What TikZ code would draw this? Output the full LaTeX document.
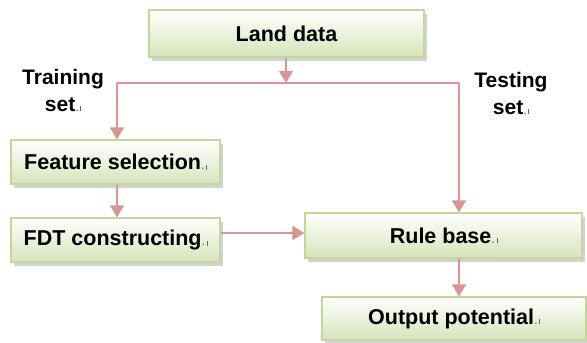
\documentclass[tikz,border=0pt]{standalone}
\usepackage{fontspec}
\setmainfont{Liberation Sans}
\usetikzlibrary{arrows.meta,shadows}

\definecolor{boxline}{RGB}{195,214,155}
\definecolor{boxfill}{RGB}{214,228,186}
\definecolor{flowline}{RGB}{217,149,148}
\newcommand\pmark{{\fontsize{13}{13}\selectfont\mdseries\color{black!60}.\hspace{1.5pt}\rule{0.6pt}{5pt}}}

\begin{document}
\begin{tikzpicture}[x=1pt, y=-1pt, >={Triangle[width=14pt,length=12pt]},
    stage/.style={draw=boxline, line width=1.2pt, top color=white, bottom color=boxfill,
      drop shadow={shadow xshift=3pt, shadow yshift=-4pt, fill=black!35},
      font=\fontsize{21.5}{24}\selectfont\bfseries, inner sep=0pt, align=center},
    flow/.style={draw=flowline, line width=1.6pt},
    setlbl/.style={font=\fontsize{21}{27}\selectfont\bfseries, align=center, inner sep=0pt}]
  \useasboundingbox (0,0) rectangle (587,343);
  % boxes
  \node[stage, minimum width=275pt, minimum height=47pt] (land) at (286.5,33.5) {Land data};
  \node[stage, minimum width=209pt, minimum height=44pt] (feat) at (115.5,162) {Feature selection\pmark};
  \node[stage, minimum width=209pt, minimum height=44pt] (fdt) at (115.5,240) {FDT constructing\pmark};
  \node[stage, minimum width=277pt, minimum height=45pt] (rule) at (443.5,235.5) {Rule base\pmark};
  \node[stage, minimum width=264pt, minimum height=43pt] (out) at (454,318.5) {Output potential\pmark};
  % labels
  \node[setlbl] (train) at (63,90) {Training\\set\pmark};
  \node[setlbl] (test) at (511,93) {Testing\\set\pmark};
  % split point
  \coordinate (split) at (286,83);
  \coordinate (splitL) at (117,83);
  \coordinate (splitR) at (459,83);
  \draw[flow, ->] (land.south -| split) -- (split);
  \draw[flow] (splitL) -- (splitR);
  \draw[flow, ->] (splitL) -- (splitL |- feat.north);
  \draw[flow, ->] (splitR) -- (splitR |- rule.north);
  \draw[flow, ->] (feat.south -| splitL) -- (fdt.north -| splitL);
  \draw[flow, ->] (fdt.east |- 0,233) -- (rule.west |- 0,233);
  \draw[flow, ->] (rule.south -| splitR) -- (out.north -| splitR);
\end{tikzpicture}
\end{document}
